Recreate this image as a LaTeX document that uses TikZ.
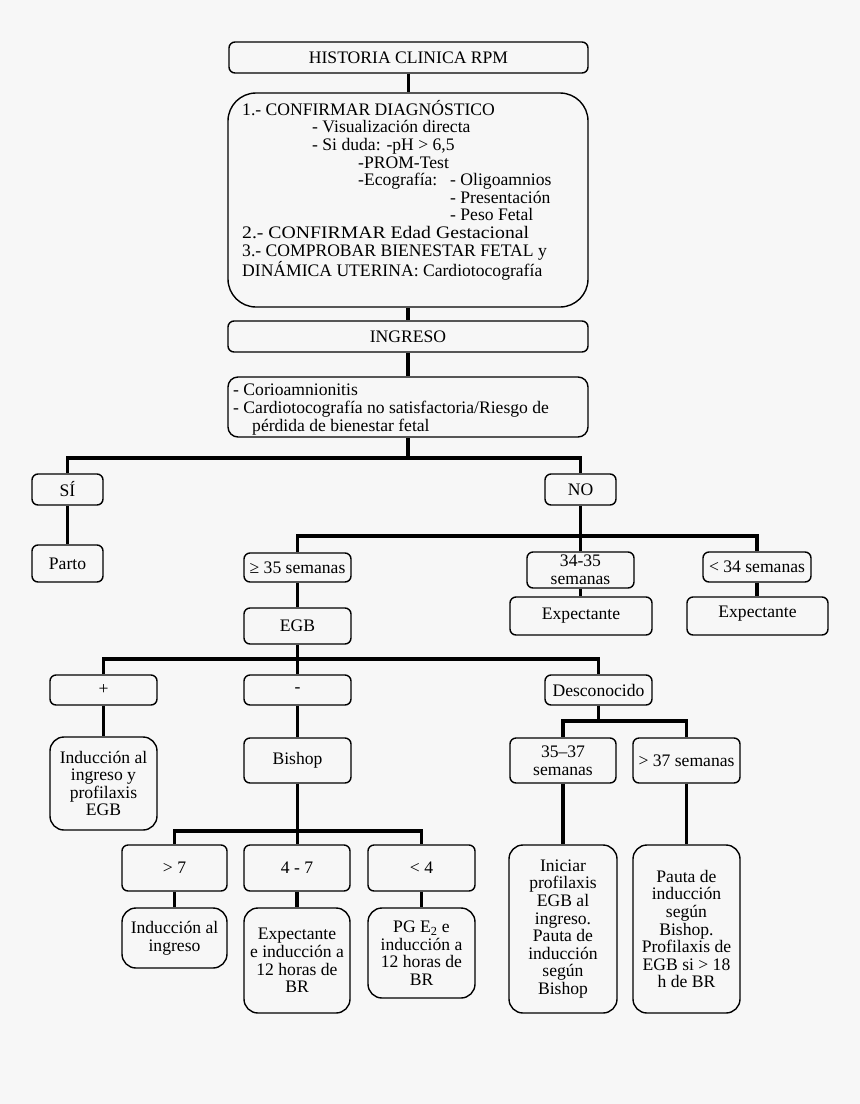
\documentclass[tikz,border=0pt]{standalone}
\usepackage{fontspec}
\setmainfont{Liberation Serif}
\definecolor{bgc}{HTML}{F7F7F7}
\newcommand\fsz{\fontsize{17.6}{17.6}\selectfont}
\begin{document}
\begin{tikzpicture}[x=1pt,y=-1pt,
  box/.style={draw, line width=1.4pt, rounded corners=6pt, align=center, inner sep=0pt, font=\fsz},
  roundbox/.style={box, rounded corners=14pt},
  conn/.style={line width=3.2pt}]
\fill[bgc] (0,0) rectangle (860,1104);
\useasboundingbox (0,0) rectangle (860,1104);

% top part
\node[box, minimum width=359pt, minimum height=31pt] (hist) at (408.5,57.5) {HISTORIA CLINICA RPM};
\node[box, rounded corners=28pt, minimum width=360pt, minimum height=214pt] (diag) at (408,200) {};
\node[anchor=north west, inner sep=0pt, align=left, font=\fsz] (diagtxt) at (242,100) {%
1.- CONFIRMAR DIAGNÓSTICO\\
\hspace*{70pt}- Visualización directa\\
\hspace*{70pt}- Si duda: -pH > 6,5\\
\hspace*{116pt}-PROM-Test\\
\hspace*{116pt}\makebox[92pt][l]{-Ecografía:}- Oligoamnios\\
\hspace*{208pt}- Presentación\\
\hspace*{208pt}- Peso Fetal\\
{\addfontfeatures{FakeStretch=1.12}2.- CONFIRMAR Edad Gestacional}\\
3.- COMPROBAR BIENESTAR FETAL y\\
DINÁMICA UTERINA: Cardiotocografía};
\node[box, minimum width=360pt, minimum height=31pt] (ingreso) at (408,336.5) {INGRESO};
\node[box, rounded corners=10pt, minimum width=360pt, minimum height=60pt] (corio) at (408,407) {};
\node[anchor=north west, inner sep=0pt, align=left, font=\fsz] (coriotxt) at (233,384) {%
- Corioamnionitis\\
- Cardiotocografía no satisfactoria/Riesgo de\\
\hspace*{19pt}pérdida de bienestar fetal};

% level SI / NO
\node[box, minimum width=71pt, minimum height=31pt] (si) at (67.5,489.5) {SÍ};
\node[box, minimum width=71pt, minimum height=37pt] (parto) at (67.5,563.5) {Parto};
\node[box, minimum width=71pt, minimum height=31pt] (no) at (580.5,489.5) {NO};

% weeks
\node[box, minimum width=107pt, minimum height=29pt] (ge35) at (297.5,567.5) {≥ 35 semanas};
\node[box, minimum width=107pt, minimum height=36pt] (s3435) at (580.5,570) {34-35\\semanas};
\node[box, minimum width=108pt, minimum height=30pt] (lt34) at (757,567) {< 34 semanas};
\node[box, minimum width=142pt, minimum height=38pt] (exp1) at (581,616) {Expectante};
\node[box, minimum width=141pt, minimum height=38pt, text depth=8pt] (exp2) at (757.5,616) {Expectante};

% EGB
\node[box, minimum width=107pt, minimum height=36pt] (egb) at (297.5,626) {EGB};
\node[box, minimum width=107pt, minimum height=30pt] (plus) at (103.5,690) {+};
\node[box, minimum width=107pt, minimum height=30pt] (minus) at (297.5,690) {-};
\node[box, minimum width=107pt, minimum height=30pt] (desc) at (598.5,690) {Desconocido};

\node[roundbox, minimum width=107pt, minimum height=93pt] (indprof) at (103.5,783.5) {Inducción al\\ingreso y\\profilaxis\\EGB};
\node[box, minimum width=107pt, minimum height=45pt] (bishop) at (297.5,760.5) {Bishop};
\node[box, minimum width=106pt, minimum height=45pt] (s3537) at (563,760.5) {35–37\\semanas};
\node[box, minimum width=107pt, minimum height=45pt] (gt37) at (686.5,760.5) {> 37 semanas};

% Bishop levels
\node[box, minimum width=105pt, minimum height=46pt] (gt7) at (174.5,868) {> 7};
\node[box, minimum width=106pt, minimum height=46pt] (s47) at (297,868) {4 - 7};
\node[box, minimum width=107pt, minimum height=46pt] (lt4) at (421.5,868) {< 4};

\node[roundbox, minimum width=105pt, minimum height=60pt] (inding) at (174.5,938) {Inducción al\\ingreso};
\node[roundbox, minimum width=106pt, minimum height=105pt] (expind) at (297,960.5) {Expectante\\e inducción a\\12 horas de\\BR};
\node[roundbox, minimum width=107pt, minimum height=90pt] (pg) at (421.5,953) {PG E\textsubscript{2} e\\inducción a\\12 horas de\\BR};

\node[roundbox, minimum width=108pt, minimum height=168pt] (iniciar) at (563,929) {Iniciar\\profilaxis\\EGB al\\ingreso.\\Pauta de\\inducción\\según\\Bishop};
\node[roundbox, minimum width=107pt, minimum height=168pt] (pauta) at (686.5,929) {Pauta de\\inducción\\según\\Bishop.\\Profilaxis de\\EGB si > 18\\h de BR};

% bar levels
\coordinate (b1) at (0,458);
\coordinate (b2) at (0,536);
\coordinate (b3) at (0,659);
\coordinate (b4) at (0,721);
\coordinate (b5) at (0,831);

% connectors
\draw[conn] (hist.south) -- (hist.south |- diag.north);
\draw[conn] (diag.south) -- (diag.south |- ingreso.north);
\draw[conn] (ingreso.south) -- (ingreso.south |- corio.north);

\draw[conn] (corio.south) -- (corio.south |- b1) -| (si.north);
\draw[conn] (corio.south |- b1) -| (no.north);
\draw[conn] (si.south) -- (parto.north);

\draw[conn] (no.south) -- (no.south |- b2) -| (ge35.north);
\draw[conn] (no.south |- b2) -- (s3435.north);
\draw[conn] (no.south |- b2) -| (lt34.north);
\draw[conn] (s3435.south) -- (s3435.south |- exp1.north);
\draw[conn] (lt34.south) -- (lt34.south |- exp2.north);
\draw[conn] (ge35.south) -- (egb.north);

\draw[conn] (egb.south) -- (egb.south |- b3) -| (plus.north);
\draw[conn] (egb.south |- b3) -- (minus.north);
\draw[conn] (egb.south |- b3) -| (desc.north);
\draw[conn] (plus.south) -- (indprof.north);
\draw[conn] (minus.south) -- (bishop.north);

\draw[conn] (desc.south) -- (desc.south |- b4) -| (s3537.north);
\draw[conn] (desc.south |- b4) -| (gt37.north);
\draw[conn] (s3537.south) -- (iniciar.north);
\draw[conn] (gt37.south) -- (pauta.north);

\draw[conn] (bishop.south) -- (bishop.south |- b5) -| (gt7.north);
\draw[conn] (bishop.south |- b5) -- (bishop.south |- s47.north);
\draw[conn] (bishop.south |- b5) -| (lt4.north);
\draw[conn] (gt7.south) -- (inding.north);
\draw[conn] (s47.south) -- (expind.north);
\draw[conn] (lt4.south) -- (pg.north);
\end{tikzpicture}
\end{document}
